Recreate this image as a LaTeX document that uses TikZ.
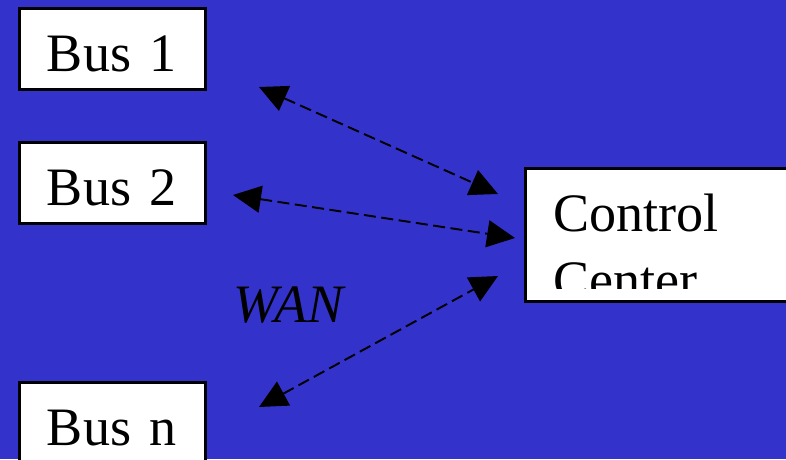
\documentclass[tikz,border=0pt]{standalone}
\usepackage{fontspec}
\setmainfont{Liberation Serif}
\newfontfamily\busfont{Liberation Serif}
\usetikzlibrary{arrows.meta}
\definecolor{bgblue}{RGB}{51,51,204}
\tikzset{
  boxline/.style={draw=black, line width=1.7pt, fill=white, outer sep=0pt},
  busbox/.style={boxline, anchor=north west, inner xsep=0.55cm, text width=2.62cm,
    align=left, minimum height=1.62cm, text height=0.92cm, text depth=0cm},
  wanlink/.style={line width=1.1pt, dash pattern=on 0.24cm off 0.11cm,
    {Triangle[length=0.56cm, width=0.54cm]}-{Triangle[length=0.56cm, width=0.54cm]}}
}
\begin{document}
\begin{tikzpicture}[x=0.02cm, y=-0.02cm, font=\busfont\fontsize{30.8}{38}\selectfont]
        \useasboundingbox (0,0) rectangle (786,459);
        \fill[bgblue] (0,0) rectangle (786,459);
        \clip (0,0) rectangle (786,459);

        \coordinate (b1end) at (259,87);
        \coordinate (b2end) at (233,195);
        \coordinate (bnend) at (259,407);
        \coordinate (cc1) at (498,194);
        \coordinate (cc2) at (515,238);
        \coordinate (cc3) at (498,276);

        % Boxes
        \foreach \n/\y/\t in {bus1/8.5/Bus 1, bus2/142.5/Bus 2, busn/382.5/Bus n}
            \node[busbox] (\n) at (19.5,\y) {\t};
        \node[boxline, anchor=north west, minimum width=6cm, minimum height=2.66cm] (cc) at (525.5,168.5) {};
        \begin{scope}
            \clip (524,167) rectangle (786,288);
            \node[anchor=base west, inner sep=0pt, align=left] (cctext) at (553,298) {Control\\Center};
        \end{scope}
        \node[anchor=base west, inner sep=0pt] (wan) at (233,322) {\itshape WAN};

        % Edges
        \draw[wanlink] (b1end) -- (cc1);
        \draw[wanlink] (b2end) -- (cc2); % Middle edge
        \draw[wanlink] (bnend) -- (cc3);
\end{tikzpicture}
\end{document}
